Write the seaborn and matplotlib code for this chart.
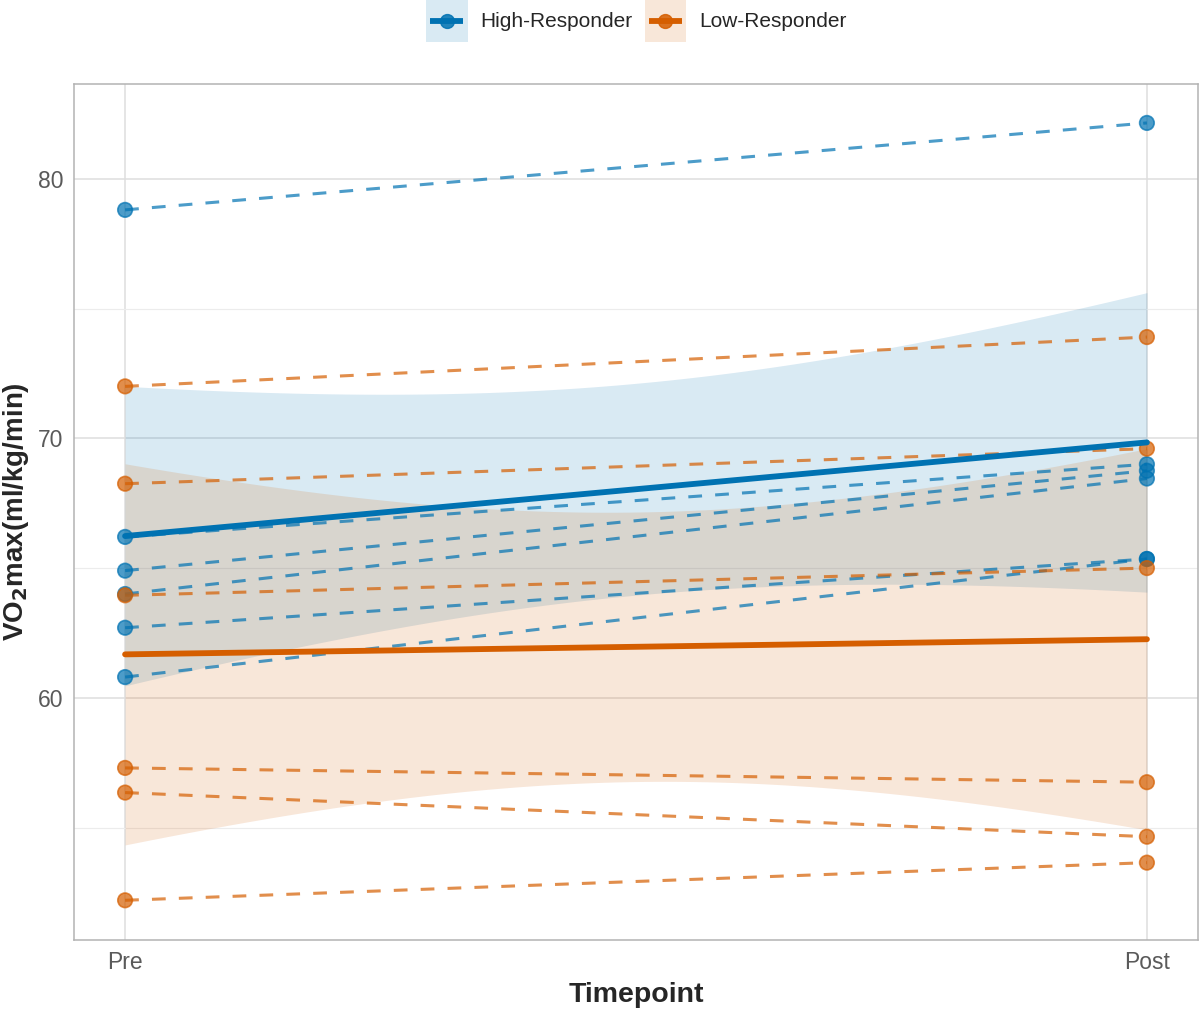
import numpy as np
import pandas as pd
import matplotlib
matplotlib.use("Agg")
import matplotlib.pyplot as plt
import seaborn as sns
from matplotlib.lines import Line2D
from matplotlib.patches import Rectangle
from matplotlib.legend_handler import HandlerBase

# ---------------- data ----------------
timepoints = ["Pre", "Post"]
groups = ["High-Responder", "Low-Responder"]
high_pre = [78.8, 66.2, 64.9, 64.0, 62.7, 60.8]
high_post = [82.15, 69.0, 68.75, 68.45, 65.35, 65.35]
low_pre = [72.0, 68.25, 63.95, 57.3, 56.35, 52.2]
low_post = [73.9, 69.6, 65.0, 56.75, 54.65, 53.65]

colors = {"High-Responder": "#0072B2", "Low-Responder": "#D55E00"}

rows = []
sid = 0
for g, pre, post in [("High-Responder", high_pre, high_post),
                     ("Low-Responder", low_pre, low_post)]:
    for a, b in zip(pre, post):
        rows.append((sid, g, 0.0, a))
        rows.append((sid, g, 1.0, b))
        sid += 1
df = pd.DataFrame(rows, columns=["subject", "group", "time", "vo2"])

# linear fit with 95% confidence band (like geom_smooth(method="lm"))
T975_DF10 = 2.228139
grid = np.linspace(0, 1, 80)
fits = []
for g in groups:
    d = df[df.group == g]
    x, y = d.time.values, d.vo2.values
    n = len(x)
    b1, b0 = np.polyfit(x, y, 1)
    resid = y - (b0 + b1 * x)
    s = np.sqrt(np.sum(resid ** 2) / (n - 2))
    sxx = np.sum((x - x.mean()) ** 2)
    se = s * np.sqrt(1.0 / n + (grid - x.mean()) ** 2 / sxx)
    f = b0 + b1 * grid
    fits.append(pd.DataFrame({"group": g, "x": grid, "fit": f,
                              "lo": f - T975_DF10 * se, "hi": f + T975_DF10 * se}))
fit_df = pd.concat(fits, ignore_index=True)

# ---------------- figure ----------------
sns.set_theme(style="white")
plt.rcParams["font.family"] = ["Liberation Sans", "DejaVu Sans"]

fig = plt.figure(figsize=(12, 10.1), dpi=100)
ax = fig.add_axes([74 / 1200, 70 / 1010, 1124 / 1200, 856 / 1010])

# ribbons
for g in groups:
    d = fit_df[fit_df.group == g]
    ax.fill_between(d.x, d.lo, d.hi, color=colors[g], alpha=0.15, lw=0, zorder=1)

# individual dashed lines
sns.lineplot(data=df, x="time", y="vo2", hue="group", units="subject",
             estimator=None, palette=colors, lw=2.2, alpha=0.7,
             dashes=False, legend=False, ax=ax, zorder=3)
for ln in ax.get_lines():
    ln.set_linestyle((0, (4.5, 4.3)))

# points
sns.scatterplot(data=df, x="time", y="vo2", hue="group", palette=colors,
                s=110, alpha=0.7, edgecolor=None, linewidth=1.2,
                legend=False, ax=ax, zorder=4)
for coll in ax.collections[2:]:
    fc = coll.get_facecolors()
    coll.set_edgecolors(fc)

# mean fit lines
sns.lineplot(data=fit_df, x="x", y="fit", hue="group", palette=colors,
             lw=4.2, legend=False, ax=ax, zorder=5)

# axes styling
ax.set_xlim(-0.05, 1.05)
ax.set_ylim(50.67, 83.65)
ax.set_xticks([0, 1])
ax.set_xticklabels(timepoints)
ax.set_yticks([60, 70, 80])
ax.set_yticks([55, 65, 75], minor=True)
ax.grid(True, which="major", color="#DEDEDE", lw=1.1, zorder=0)
ax.grid(True, which="minor", axis="y", color="#ECECEC", lw=0.8, zorder=0)
ax.set_axisbelow(True)
for sp in ax.spines.values():
    sp.set_color("#B3B3B3")
    sp.set_linewidth(1.1)
ax.tick_params(axis="both", which="major", length=3.6, width=1.0,
               color="#B3B3B3", labelsize=16.5, labelcolor="#5A5A5A", pad=4)
ax.tick_params(axis="both", which="minor", length=0)
ax.set_xlabel("Timepoint", fontsize=20.5, fontweight="bold", labelpad=6)
ax.set_ylabel("VO$_\\mathbf{2}$max(ml/kg/min)", fontsize=20, fontweight="bold", labelpad=5)


# legend with ribbon-filled keys, line and point centred in each key
class KeyHandler(HandlerBase):
    def create_artists(self, legend, orig_handle, xdescent, ydescent,
                       width, height, fontsize, trans):
        c = orig_handle.get_color()
        x0, y0 = -xdescent, -ydescent
        yc = y0 + height / 2
        r = Rectangle((x0, y0), width, height, facecolor=c, alpha=0.15,
                      edgecolor="none", transform=trans)
        ln = Line2D([x0 + width * 0.1, x0 + width * 0.9], [yc, yc], color=c,
                    lw=4.2, solid_capstyle="butt", transform=trans)
        mk = Line2D([x0 + width / 2], [yc], marker="o", markersize=10,
                    color=c, alpha=0.85, lw=0, transform=trans)
        return [r, ln, mk]


handles = [Line2D([], [], color=colors[g]) for g in groups]
leg = fig.legend(handles, groups, loc="center", bbox_to_anchor=(0.53, 1 - 21 / 1010),
                 ncol=2, frameon=False, fontsize=15, handlelength=2.0,
                 handleheight=2.7, handletextpad=0.6, columnspacing=0.6,
                 borderpad=0, handler_map={Line2D: KeyHandler()})

fig.savefig("out.png", dpi=100)
